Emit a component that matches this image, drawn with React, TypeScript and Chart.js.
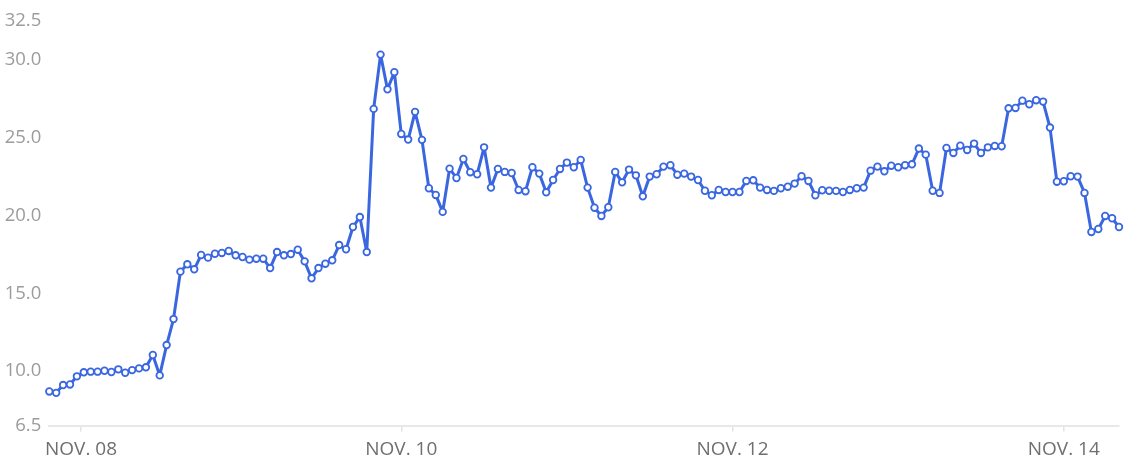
import { useEffect, useRef } from "react";
import { Chart, registerables } from "chart.js";

Chart.register(...registerables);

// Hourly readings, first point to last point
const values: number[] = [
  8.69, 8.6, 9.1, 9.14, 9.66, 9.92, 9.96, 9.96, 10.02, 9.94,
  10.11, 9.89, 10.06, 10.17, 10.24, 11.03, 9.72, 11.67, 13.34, 16.39,
  16.86, 16.54, 17.46, 17.29, 17.54, 17.59, 17.72, 17.44, 17.33, 17.16,
  17.22, 17.22, 16.62, 17.65, 17.44, 17.52, 17.8, 17.05, 15.96, 16.62,
  16.9, 17.12, 18.1, 17.83, 19.26, 19.9, 17.65, 26.85, 30.34, 28.11,
  29.21, 25.24, 24.88, 26.66, 24.86, 21.75, 21.32, 20.23, 23.01, 22.41,
  23.63, 22.78, 22.65, 24.38, 21.79, 22.99, 22.8, 22.73, 21.64, 21.56,
  23.1, 22.69, 21.49, 22.28, 22.99, 23.4, 23.1, 23.57, 21.79, 20.5,
  19.97, 20.53, 22.8, 22.13, 22.95, 22.58, 21.23, 22.5, 22.65, 23.14,
  23.23, 22.62, 22.69, 22.5, 22.28, 21.59, 21.3, 21.64, 21.51, 21.51,
  21.51, 22.22, 22.26, 21.79, 21.64, 21.58, 21.75, 21.85, 22.05, 22.52,
  22.22, 21.3, 21.62, 21.59, 21.58, 21.51, 21.64, 21.75, 21.79, 22.88,
  23.14, 22.84, 23.2, 23.1, 23.23, 23.29, 24.3, 23.91, 21.59, 21.45,
  24.34, 24.02, 24.49, 24.21, 24.62, 24.02, 24.38, 24.47, 24.45, 26.89,
  26.91, 27.38, 27.15, 27.41, 27.32, 25.65, 22.17, 22.2, 22.52, 22.5,
  21.45, 18.94, 19.13, 19.97, 19.82, 19.26,
];

// Date labels on the time axis and where they sit (in reading index units)
const dateTickLabels: string[] = ["NOV. 08", "NOV. 10", "NOV. 12", "NOV. 14"];
const dateTickPositions: number[] = [4.6, 51, 99, 147];

// Value axis ticks
const yTickValues: number[] = [6.5, 10, 15, 20, 25, 30, 32.5];

const FONT = "'Open Sans', 'Liberation Sans', sans-serif";
const LINE_BLUE = "#3A67E0";

export default function App() {
  const canvasRef = useRef<HTMLCanvasElement | null>(null);

  useEffect(() => {
    const canvas = canvasRef.current;
    if (!canvas) return;

    const chart = new Chart(canvas, {
      type: "line",
      data: {
        datasets: [
          {
            data: values.map((v, i) => ({ x: i, y: v })),
            borderColor: LINE_BLUE,
            borderWidth: 3,
            borderJoinStyle: "round",
            borderCapStyle: "round",
            tension: 0,
            pointRadius: 3.3,
            pointBorderWidth: 1.8,
            pointBackgroundColor: "#ffffff",
            pointBorderColor: LINE_BLUE,
            clip: false,
          },
        ],
      },
      options: {
        animation: false,
        responsive: true,
        maintainAspectRatio: false,
        layout: { padding: { top: 21, right: 12, bottom: 0, left: 0 } },
        plugins: {
          legend: { display: false },
          tooltip: { enabled: false },
        },
        scales: {
          x: {
            type: "linear",
            min: 0,
            max: values.length - 1,
            afterBuildTicks: (axis: any) => {
              axis.ticks = dateTickPositions.map((p) => ({ value: p }));
            },
            afterFit: (axis: any) => {
              axis.height = 47.5;
            },
            grid: {
              display: true,
              drawOnChartArea: false,
              drawTicks: true,
              tickLength: 6,
              color: "#e3e3e3",
              lineWidth: 1.5,
            },
            border: { display: true, color: "#e8e8e8", width: 2 },
            ticks: {
              autoSkip: false,
              maxRotation: 0,
              padding: 7,
              color: "#6f6f6f",
              font: { family: FONT, size: 19 },
              callback: (_v: any, i: number) => dateTickLabels[i],
            },
          },
          y: {
            type: "linear",
            min: 6.5,
            max: 32.5,
            afterBuildTicks: (axis: any) => {
              axis.ticks = yTickValues.map((v) => ({ value: v }));
            },
            afterFit: (axis: any) => {
              axis.width = 49.3;
            },
            grid: { display: false },
            border: { display: false },
            ticks: {
              padding: 0,
              color: "#9c9c9c",
              font: { family: FONT, size: 18.5 },
              callback: (v: any) => Number(v).toFixed(1),
            },
          },
        },
      },
    });

    return () => chart.destroy();
  }, []);

  return (
    <div
      style={{
        position: "fixed",
        left: 0,
        top: 0,
        width: 1131,
        height: 473,
        background: "#ffffff",
      }}
    >
      <canvas ref={canvasRef} />
    </div>
  );
}
